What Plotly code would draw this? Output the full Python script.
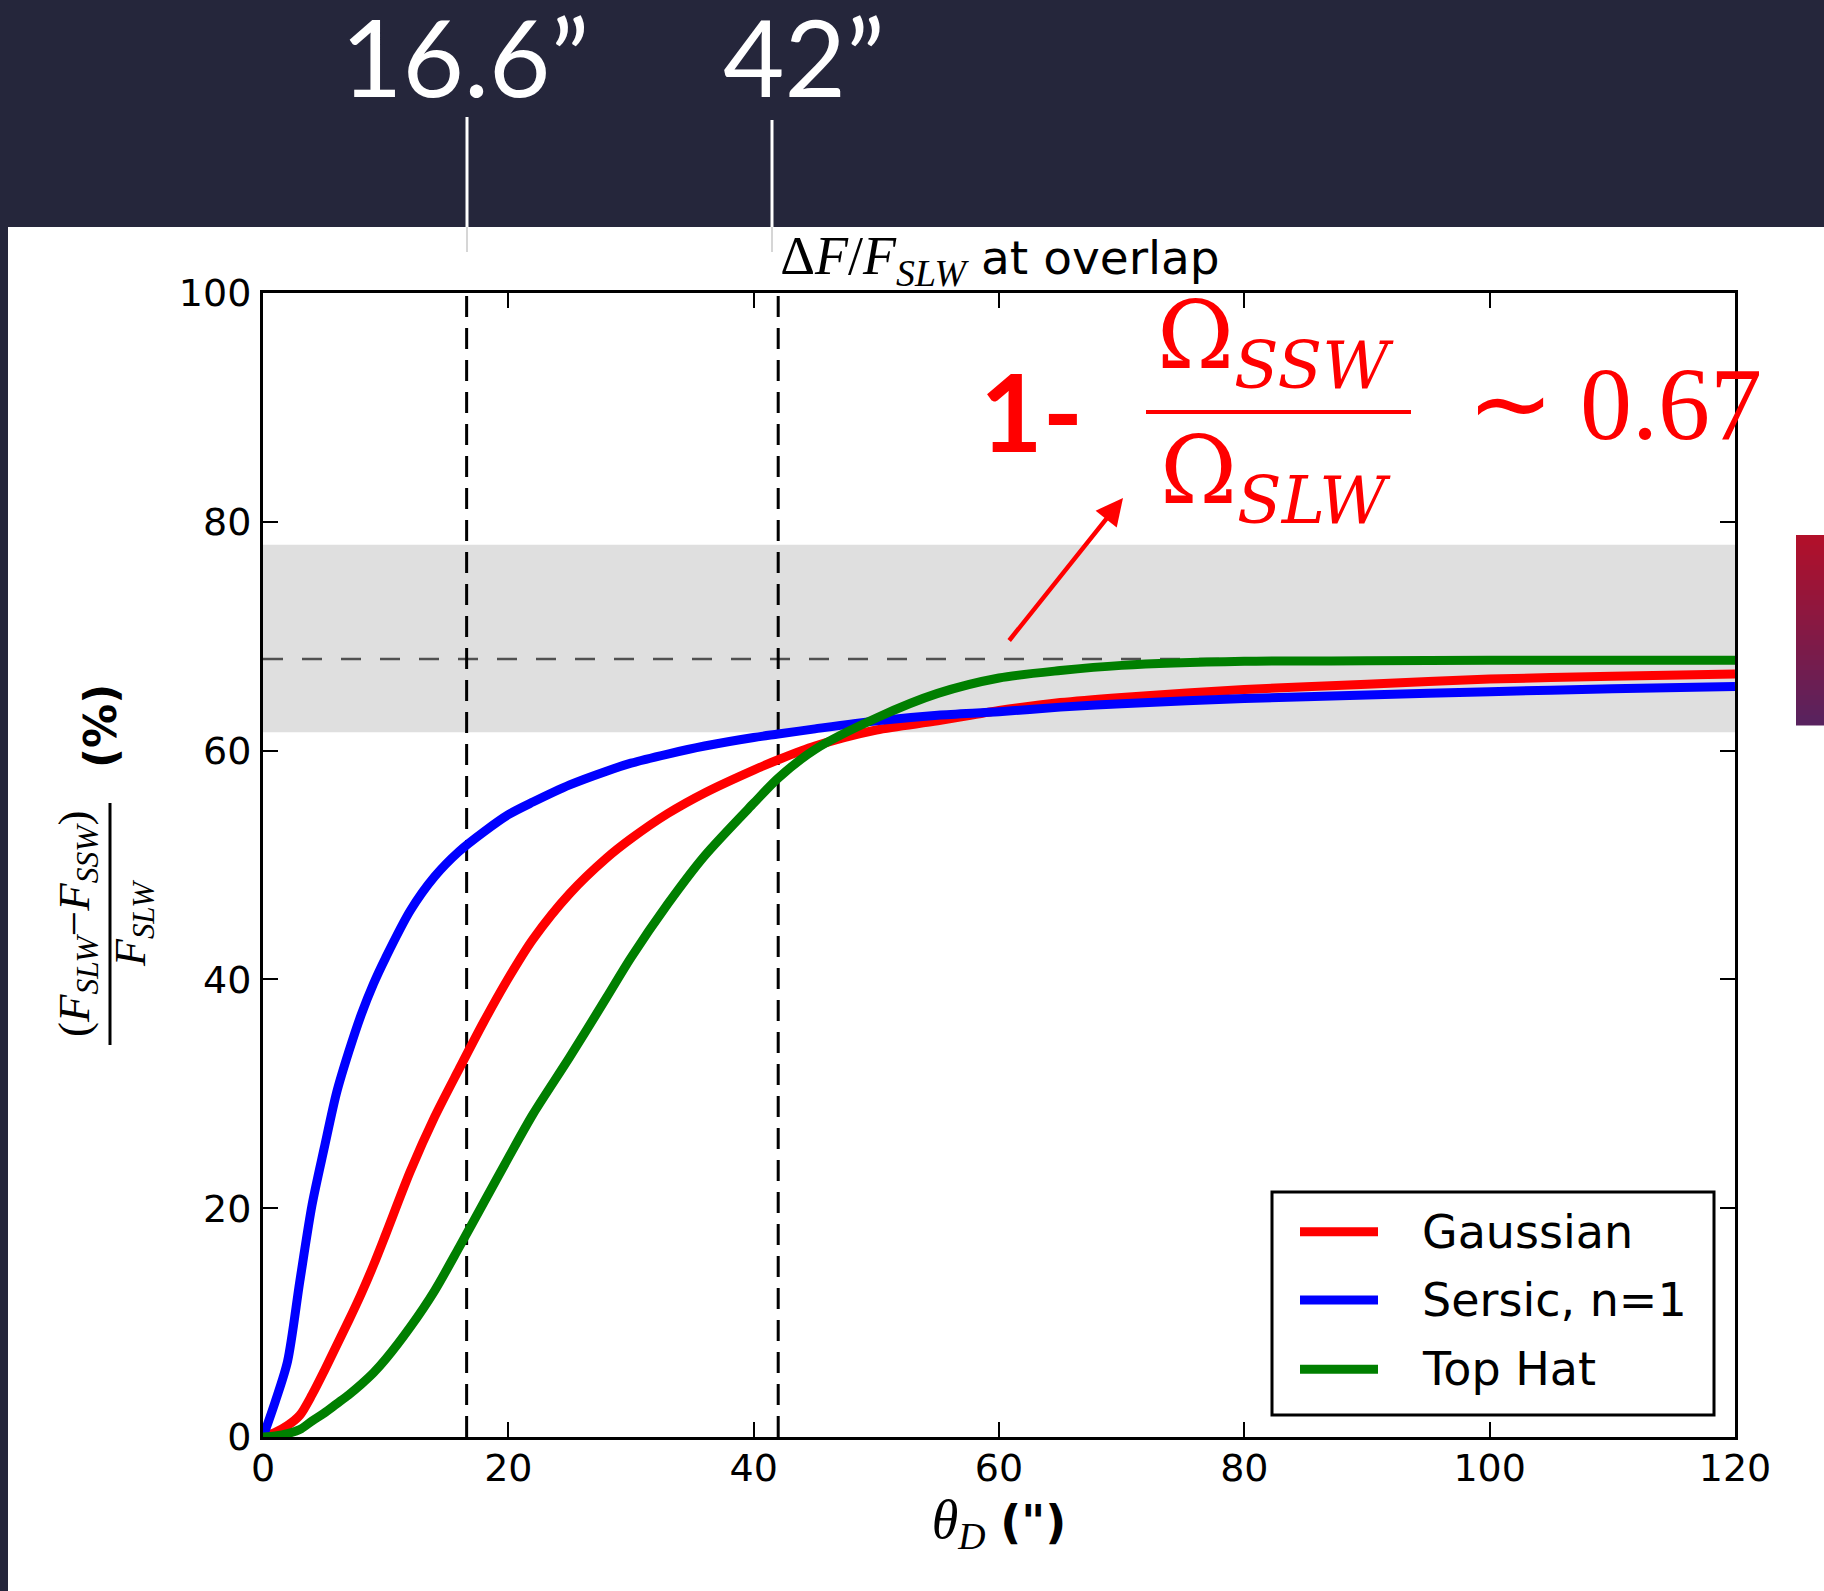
import plotly.graph_objects as go

# ---------------- data ----------------
theta = [0, 1, 2, 3, 4, 5, 6, 7, 8, 9, 10, 12, 14, 16, 18, 20, 22, 25, 28, 30,
         33, 36, 40, 42, 45, 50, 55, 60, 65, 70, 80, 90, 100, 110, 120]
gaussian = [0, 0.4, 1.0, 1.9, 3.7, 5.8, 8.0, 10.2, 12.5, 15.0, 17.7, 23.2, 28.0, 32.2, 36.3,
            40.1, 43.5, 47.5, 50.6, 52.3, 54.5, 56.3, 58.3, 59.2, 60.4, 61.8, 62.6, 63.5,
            64.2, 64.65, 65.35, 65.8, 66.25, 66.5, 66.7]
sersic = [0, 3.1, 6.6, 13.6, 20.3, 25.3, 30.1, 33.7, 36.9, 39.6, 41.9, 46.0, 49.0, 51.2, 52.9,
          54.4, 55.5, 57.0, 58.2, 58.9, 59.7, 60.4, 61.15, 61.45, 61.9, 62.6, 63.1, 63.4,
          63.8, 64.1, 64.55, 64.85, 65.15, 65.4, 65.6]
tophat = [0, 0.1, 0.3, 0.65, 1.4, 2.1, 2.9, 3.7, 4.6, 5.6, 6.8, 9.6, 12.8, 16.6, 20.5,
          24.4, 28.2, 33.2, 38.4, 41.9, 46.6, 50.8, 55.4, 57.6, 60.1, 62.85, 65.0, 66.35,
          67.0, 67.45, 67.8, 67.85, 67.9, 67.9, 67.9]
series_names = ["Gaussian", "Sersic, n=1", "Top Hat"]
series_colors = ["#ff0000", "#0000ff", "#007f00"]

overlap_marks = [16.6, 42]            # vertical dashed lines (arcsec)
overlap_labels = ["16.6\u201d", "42\u201d"]
ratio_level = 68                      # horizontal dashed line (%)
band_low, band_high = 61.6, 78.0      # grey band (%)
x_ticks = [0, 20, 40, 60, 80, 100, 120]
y_ticks = [0, 20, 40, 60, 80, 100]

# ---------------- geometry helpers ----------------
W, H = 1824, 1591
L, R, T, B = 263, 1735, 293, 1437


def px(v):
    return (v - L) / (R - L)


def py(v):
    return (B - v) / (B - T)


DARK = "#25263b"
fig = go.Figure()

for name, ys, col in zip(series_names, [gaussian, sersic, tophat], series_colors):
    fig.add_trace(go.Scatter(x=theta, y=ys, mode="lines", name=name,
                             line=dict(color=col, width=9, shape="spline", smoothing=0.8),
                             showlegend=False))

shapes = []
# white slide area
shapes.append(dict(type="rect", xref="paper", yref="paper", x0=px(8), x1=px(1824),
                   y0=py(1591), y1=py(227), fillcolor="white", line=dict(width=0), layer="below"))
# grey band
shapes.append(dict(type="rect", xref="x", yref="y", x0=0, x1=120, y0=band_low, y1=band_high,
                   fillcolor="#dfdfdf", line=dict(width=0), layer="below"))
# horizontal dashed
shapes.append(dict(type="line", xref="x", yref="y", x0=0, x1=120, y0=ratio_level, y1=ratio_level,
                   line=dict(color="#505050", width=2.5, dash="20px,19px"), layer="below"))
# vertical dashed
for xv in overlap_marks:
    shapes.append(dict(type="line", xref="x", yref="y", x0=xv, x1=xv, y0=0, y1=100,
                       line=dict(color="black", width=3, dash="21px,11px"), layer="below"))
# leader lines from labels
for xpix, ytop in [(467, 117), (772, 120)]:
    shapes.append(dict(type="line", xref="paper", yref="paper", x0=px(xpix), x1=px(xpix),
                       y0=py(ytop), y1=py(227), line=dict(color="white", width=3)))
    shapes.append(dict(type="line", xref="paper", yref="paper", x0=px(xpix), x1=px(xpix),
                       y0=py(227), y1=py(252), line=dict(color="#c8c8c8", width=1.5)))
# gradient block at right
top_c, bot_c = (178, 16, 42), (88, 34, 94)
n_str = 38
y_a, y_b = 535, 725
for i in range(n_str):
    t = i / (n_str - 1)
    c = tuple(int(round(top_c[k] + (bot_c[k] - top_c[k]) * t)) for k in range(3))
    ya = y_a + (y_b - y_a) * i / n_str
    yb = y_a + (y_b - y_a) * (i + 1) / n_str
    shapes.append(dict(type="rect", xref="paper", yref="paper", x0=px(1796), x1=px(1824),
                       y0=py(yb + 0.5), y1=py(ya), fillcolor="rgb(%d,%d,%d)" % c,
                       line=dict(width=0)))
# red fraction bar
shapes.append(dict(type="line", xref="paper", yref="paper", x0=px(1146), x1=px(1411),
                   y0=py(412), y1=py(412), line=dict(color="red", width=4)))
# y-label fraction bar
shapes.append(dict(type="line", xref="paper", yref="paper", x0=px(110), x1=px(110),
                   y0=py(1045), y1=py(803), line=dict(color="black", width=3)))
# legend box and samples
shapes.append(dict(type="rect", xref="paper", yref="paper", x0=px(1272), x1=px(1714),
                   y0=py(1415), y1=py(1192), fillcolor="white", line=dict(color="black", width=3)))
legend_y = [1231.7, 1300, 1369.3]
for yv, col in zip(legend_y, series_colors):
    shapes.append(dict(type="line", xref="paper", yref="paper", x0=px(1300), x1=px(1378),
                       y0=py(yv), y1=py(yv), line=dict(color=col, width=9)))

ann = []
for lab, xc in zip(overlap_labels, [465, 804]):
    ann.append(dict(text=lab, xref="paper", yref="paper", x=px(xc), y=py(56), showarrow=False,
                    xanchor="center", yanchor="middle",
                    font=dict(family="Lato", size=106, color="white")))
ann.append(dict(text="<b>1-</b>", xref="paper", yref="paper", x=px(1031), y=py(410),
                showarrow=False, xanchor="center", yanchor="middle",
                font=dict(family="Lato", size=108, color="red")))
ann.append(dict(text="\u03a9<sub><i>SSW</i></sub>", xref="paper", yref="paper", x=px(1275),
                y=py(342), showarrow=False, xanchor="center", yanchor="middle",
                font=dict(family="DejaVu Serif", size=93, color="red")))
ann.append(dict(text="\u03a9<sub><i>SLW</i></sub>", xref="paper", yref="paper", x=px(1275),
                y=py(478), showarrow=False, xanchor="center", yanchor="middle",
                font=dict(family="DejaVu Serif", size=93, color="red")))
ann.append(dict(text="\u223c 0.67", xref="paper", yref="paper", x=px(1614), y=py(403),
                showarrow=False, xanchor="center", yanchor="middle",
                font=dict(family="Liberation Serif", size=104, color="red")))
ann.append(dict(text="", xref="paper", yref="paper", x=px(1123), y=py(498), ax=-115, ay=144,
                showarrow=True, arrowhead=2, arrowsize=1.2, arrowwidth=4.5, arrowcolor="red",
                standoff=0))
# y-axis label pieces
ann.append(dict(text="<b>(%)</b>", xref="paper", yref="paper", x=px(100), y=py(726),
                textangle=-90, showarrow=False, xanchor="center", yanchor="middle",
                font=dict(family="DejaVu Sans", size=44, color="black")))
ann.append(dict(text="(<i>F</i><sub><i>SLW</i></sub>\u2212<i>F</i><sub><i>SSW</i></sub>)",
                xref="paper", yref="paper", x=px(77), y=py(924), textangle=-90, showarrow=False,
                xanchor="center", yanchor="middle",
                font=dict(family="Liberation Serif", size=45, color="black")))
ann.append(dict(text="<i>F</i><sub><i>SLW</i></sub>", xref="paper", yref="paper", x=px(133),
                y=py(924), textangle=-90, showarrow=False, xanchor="center", yanchor="middle",
                font=dict(family="Liberation Serif", size=44, color="black")))
# legend texts
for name, yv in zip(series_names, legend_y):
    ann.append(dict(text=name, xref="paper", yref="paper", x=px(1420), y=py(yv),
                    showarrow=False, xanchor="left", yanchor="middle",
                    font=dict(family="DejaVu Sans", size=46, color="black")))

axis_common = dict(showline=True, linewidth=3, linecolor="black", mirror="ticks",
                   ticks="inside", ticklen=15, tickwidth=2, tickcolor="black",
                   showgrid=False, zeroline=False,
                   tickfont=dict(family="DejaVu Sans", size=38, color="black"))

fig.update_layout(
    width=W, height=H, autosize=False,
    margin=dict(l=L, r=W - R, t=T, b=H - B, pad=0),
    paper_bgcolor=DARK, plot_bgcolor="rgba(0,0,0,0)",
    shapes=shapes, annotations=ann, showlegend=False,
    title=dict(text='<span style="font-family:Liberation Serif;font-size:54px">\u0394<i>F</i>/<i>F</i>'
                    '<sub><i>SLW</i></sub></span> at overlap',
               x=px(1000), xref="paper", xanchor="center",
               y=1 - 258 / H, yref="container", yanchor="middle",
               font=dict(family="DejaVu Sans", size=47, color="black")),
    xaxis=dict(range=[0, 120], tickvals=x_ticks, ticklabelstandoff=-5,
               title=dict(text='<span style="font-family:Liberation Serif;font-size:54px"><i>\u03b8</i>'
                               '<sub><i>D</i></sub></span> <b>(")</b>',
                          font=dict(family="DejaVu Sans", size=46, color="black"),
                          standoff=14),
               **axis_common),
    yaxis=dict(range=[0, 100], tickvals=y_ticks, ticklabelstandoff=1, **axis_common),
)

fig.write_html(
    "out.html",
    config={"displayModeBar": False},
    post_script="document.body.style.margin='0px';"
                "document.body.style.background='#25263b';"
                "document.documentElement.style.overflow='hidden';",
)
